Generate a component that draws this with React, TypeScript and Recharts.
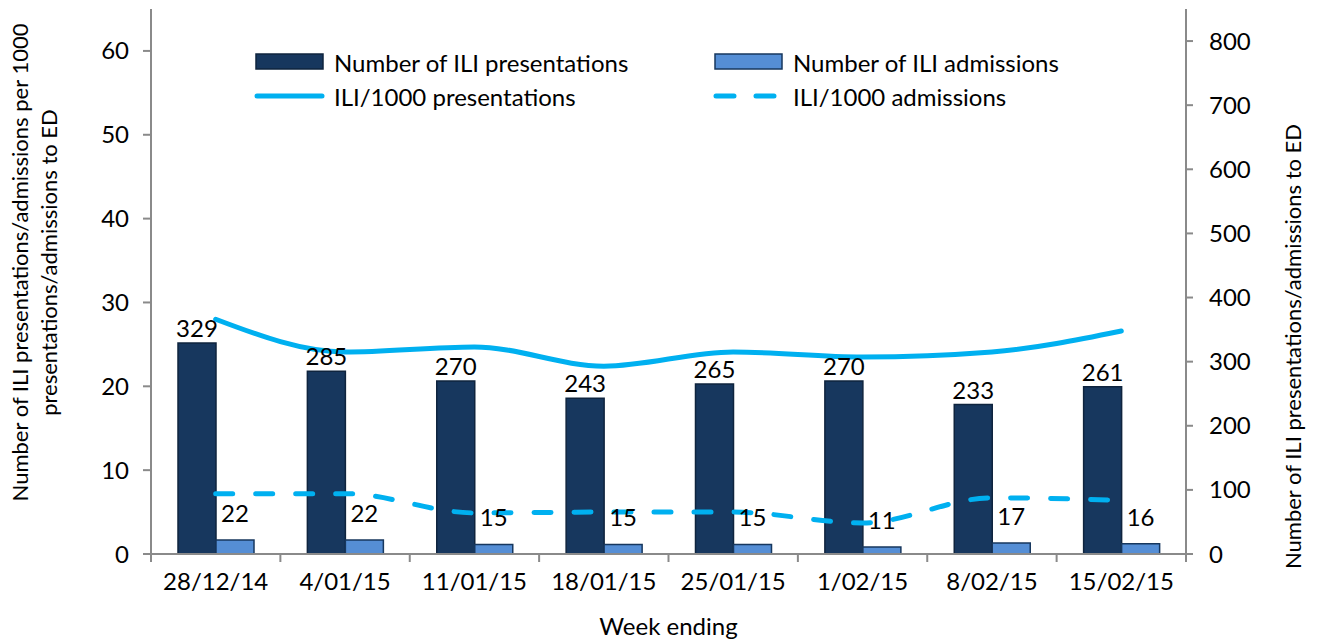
import React from "react";
import {
  ComposedChart,
  Bar,
  Line,
  XAxis,
  YAxis,
  Legend,
  LabelList,
  Label,
} from "recharts";

const weeks = [
  "28/12/14",
  "4/01/15",
  "11/01/15",
  "18/01/15",
  "25/01/15",
  "1/02/15",
  "8/02/15",
  "15/02/15",
];
const presentations = [329, 285, 270, 243, 265, 270, 233, 261];
const admissions = [22, 22, 15, 15, 15, 11, 17, 16];
const iliPerThousandPresentations = [28.0, 24.1, 24.7, 22.4, 24.1, 23.5, 24.1, 26.6];
const iliPerThousandAdmissions = [7.2, 7.2, 4.9, 5.0, 5.0, 3.7, 6.7, 6.4];

const leftTicks = [0, 10, 20, 30, 40, 50, 60];
const rightTicks = [0, 100, 200, 300, 400, 500, 600, 700, 800];
const legendOrder = [
  "presentations",
  "admissions",
  "perThousandPresentations",
  "perThousandAdmissions",
];

const data = weeks.map((week, i) => ({
  week,
  presentations: presentations[i],
  admissions: admissions[i],
  perThousandPresentations: iliPerThousandPresentations[i],
  perThousandAdmissions: iliPerThousandAdmissions[i],
}));

const FONT = "Lato, 'Open Sans', sans-serif";
const AXIS = "#8a8a8a";
const NAVY = "#17375E";
const MID_BLUE = "#558ED5";
const CYAN = "#00B0F0";
const X_TICK_SIZE = 8;
const X_TICK_MARGIN = 10;

function LeftTitle({ viewBox }: any) {
  const cy = viewBox.y + viewBox.height / 2 - 19;
  return (
    <text
      transform={`translate(${viewBox.x + 28}, ${cy}) rotate(-90)`}
      textAnchor="middle"
      fontFamily={FONT}
      fontSize={22}
      fill="#000"
    >
      <tspan x={0} dy={0}>Number of ILI presentations/admissions per 1000</tspan>
      <tspan x={0} dy={29}>presentations/admissions to ED</tspan>
    </text>
  );
}

function RightTitle({ viewBox }: any) {
  const cy = viewBox.y + viewBox.height / 2 + 65;
  return (
    <text
      transform={`translate(${viewBox.x + 115}, ${cy}) rotate(-90)`}
      textAnchor="middle"
      fontFamily={FONT}
      fontSize={22}
      fill="#000"
    >
      Number of ILI presentations/admissions  to ED
    </text>
  );
}

// Excel-style category ticks: the mark sits between categories, the label in the middle
function WeekTick({ x, y, payload, index, visibleTicksCount }: any) {
  const half = payload.offset || 0;
  const axisY = y - X_TICK_SIZE - X_TICK_MARGIN;
  const isLast = index === visibleTicksCount - 1;
  return (
    <g>
      <line x1={x - half} y1={axisY} x2={x - half} y2={axisY + X_TICK_SIZE} stroke={AXIS} strokeWidth={2} />
      {isLast && (
        <line x1={x + half} y1={axisY} x2={x + half} y2={axisY + X_TICK_SIZE} stroke={AXIS} strokeWidth={2} />
      )}
      <text x={x} y={y} dy="0.75em" textAnchor="middle" fill="#000" fontSize={24} fontFamily={FONT}>
        {payload.value}
      </text>
    </g>
  );
}

function LegendBox({ payload }: any) {
  const icon = (key: string) => {
    if (key === "presentations")
      return <rect x={2} y={2} width={67} height={15} fill={NAVY} stroke="#0F243E" strokeWidth={1.5} />;
    if (key === "admissions")
      return <rect x={2} y={2} width={67} height={15} fill={MID_BLUE} stroke={NAVY} strokeWidth={1.5} />;
    if (key === "perThousandPresentations")
      return <line x1={3} y1={10} x2={68} y2={10} stroke={CYAN} strokeWidth={5} strokeLinecap="round" />;
    return (
      <line
        x1={3}
        y1={10}
        x2={68}
        y2={10}
        stroke={CYAN}
        strokeWidth={5}
        strokeLinecap="round"
        strokeDasharray="18 22"
      />
    );
  };
  const items = [...(payload || [])].sort(
    (a: any, b: any) => legendOrder.indexOf(a.dataKey) - legendOrder.indexOf(b.dataKey)
  );
  return (
    <div
      style={{
        display: "grid",
        gridTemplateColumns: "459px 400px",
        rowGap: 8,
        fontFamily: FONT,
        fontSize: 24,
        color: "#000",
      }}
    >
      {items.map((p: any) => (
        <div key={p.dataKey} style={{ display: "flex", alignItems: "center", height: 26 }}>
          <svg width={72} height={20} style={{ marginRight: 8 }}>
            {icon(p.dataKey)}
          </svg>
          <span>{p.value}</span>
        </div>
      ))}
    </div>
  );
}

export default function App() {
  return (
    <div style={{ width: 1319, height: 643, background: "#fff" }}>
      <style>{`body{margin:0}`}</style>
      <ComposedChart
        width={1319}
        height={643}
        data={data}
        margin={{ top: 9, right: 0, bottom: 0, left: 0 }}
        barGap={0}
        barSize={38}
      >
        <XAxis
          dataKey="week"
          height={89}
          axisLine={{ stroke: AXIS, strokeWidth: 2 }}
          tickLine={false}
          tickSize={X_TICK_SIZE}
          tickMargin={X_TICK_MARGIN}
          interval={0}
          tick={<WeekTick />}
        >
          <Label
            value="Week ending"
            position="insideBottom"
            offset={8}
            style={{ fill: "#000", fontSize: 24, fontFamily: FONT }}
          />
        </XAxis>
        <YAxis
          yAxisId="left"
          width={151}
          domain={[0, 65]}
          ticks={leftTicks}
          allowDataOverflow
          tickSize={8}
          tickMargin={14}
          axisLine={{ stroke: AXIS, strokeWidth: 2 }}
          tickLine={{ stroke: AXIS, strokeWidth: 2 }}
          tick={{ fill: "#000", fontSize: 24, fontFamily: FONT }}
        >
          <Label content={<LeftTitle />} />
        </YAxis>
        <YAxis
          yAxisId="right"
          orientation="right"
          width={133}
          domain={[0, 850]}
          ticks={rightTicks}
          allowDataOverflow
          tickSize={7}
          tickMargin={16}
          axisLine={{ stroke: AXIS, strokeWidth: 2 }}
          tickLine={{ stroke: AXIS, strokeWidth: 2 }}
          tick={{ fill: "#000", fontSize: 24, fontFamily: FONT }}
        >
          <Label content={<RightTitle />} />
        </YAxis>
        <Legend
          layout="horizontal"
          verticalAlign="middle"
          align="center"
          content={<LegendBox />}
          wrapperStyle={{ top: 49, left: 254, width: 900 }}
        />
        <Bar
          yAxisId="right"
          dataKey="presentations"
          name="Number of ILI presentations"
          fill={NAVY}
          stroke="#0F243E"
          strokeWidth={1.5}
          isAnimationActive={false}
        >
          <LabelList
            dataKey="presentations"
            position="top"
            offset={6}
            style={{ fill: "#000", fontSize: 24, fontFamily: FONT }}
          />
        </Bar>
        <Bar
          yAxisId="right"
          dataKey="admissions"
          name="Number of ILI admissions"
          fill={MID_BLUE}
          stroke={NAVY}
          strokeWidth={1.5}
          isAnimationActive={false}
        >
          <LabelList
            dataKey="admissions"
            position="top"
            offset={18}
            style={{ fill: "#000", fontSize: 24, fontFamily: FONT }}
          />
        </Bar>
        <Line
          yAxisId="left"
          type="monotone"
          dataKey="perThousandPresentations"
          name="ILI/1000 presentations"
          stroke={CYAN}
          strokeWidth={5}
          strokeLinecap="round"
          dot={false}
          activeDot={false}
          isAnimationActive={false}
        />
        <Line
          yAxisId="left"
          type="monotone"
          dataKey="perThousandAdmissions"
          name="ILI/1000 admissions"
          stroke={CYAN}
          strokeWidth={5}
          strokeLinecap="round"
          strokeDasharray="17 23"
          dot={false}
          activeDot={false}
          isAnimationActive={false}
        />
      </ComposedChart>
    </div>
  );
}
